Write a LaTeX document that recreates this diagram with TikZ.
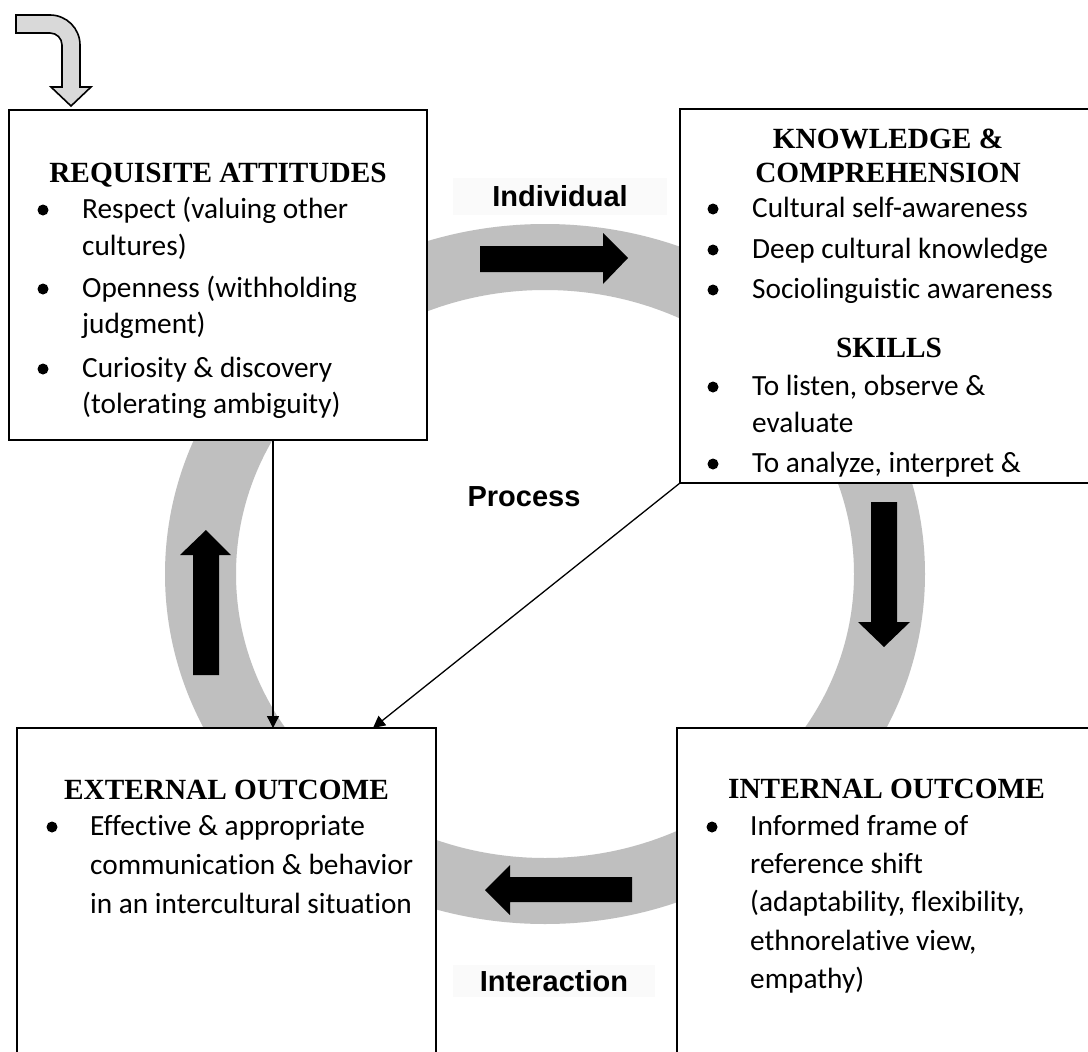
\documentclass[tikz,border=0pt]{standalone}
\usepackage{fontspec}
\setmainfont{Carlito}[Ligatures=NoCommon]
\newfontfamily\titlefont{Liberation Serif}
\newfontfamily\labelfont{Liberation Sans}
\usetikzlibrary{arrows.meta}
\definecolor{ringgray}{HTML}{BFBFBF}
\definecolor{arrowgray}{HTML}{D9D9D9}
\definecolor{labbg}{HTML}{FAFAFA}
\begin{document}
\begin{tikzpicture}[x=1pt,y=-1pt,
  box/.style={draw=black, line width=1.4pt, fill=white, inner sep=0pt, outer sep=0pt},
  body/.style={font=\fontsize{29.3}{35}\selectfont, inner sep=0pt, anchor=base west},
  bul/.style={circle, fill=black, inner sep=0pt, minimum size=11pt},
  ttl/.style={font=\titlefont\bfseries\fontsize{29.3}{35}\selectfont, inner sep=0pt, anchor=base},
  lab/.style={font=\labelfont\bfseries\fontsize{29}{35}\selectfont, inner sep=0pt},
  conn/.style={line width=1.3pt, -{Triangle[width=12pt,length=12pt]}},
  blk/.style={fill=black}
]
\useasboundingbox (0,0) rectangle (1088,1052);
\clip (0,0) rectangle (1088,1052);
\fill[white] (0,0) rectangle (1088,1052);

% gray ring
\fill[ringgray, even odd rule] (545,574) ellipse [x radius=380, y radius=350]
                               (545,574) ellipse [x radius=309, y radius=284];

% black block arrows on the ring
\fill[blk] (480,246) -- (603,246) -- (603,233) -- (628,258) -- (603,284) -- (603,272) -- (480,272) -- cycle;
\fill[blk] (871,502) -- (897,502) -- (897,622) -- (910,622) -- (884,647) -- (858,622) -- (871,622) -- cycle;
\fill[blk] (632,877) -- (632,902) -- (510,902) -- (510,915) -- (485,890) -- (510,865) -- (510,877) -- cycle;
\fill[blk] (193,675) -- (219,675) -- (219,555) -- (231,555) -- (206,530) -- (180,555) -- (193,555) -- cycle;

% labels
\node[lab, fill=labbg, minimum width=214pt, minimum height=37pt] (ind) at (560,196.5) {Individual};
\node[lab] (proc) at (524,496.5) {Process};
\node[lab, fill=labbg, minimum width=202pt, minimum height=32pt] (inter) at (554,981) {Interaction};

% ---- Requisite attitudes
\node[box, minimum width=418pt, minimum height=330pt] (tl) at (218,275) {};
\node[ttl] (tlt) at (218,182) {REQUISITE ATTITUDES};
\node[bul] (tlb1) at (43,210) {};
\node[bul] (tlb2) at (43,289) {};
\node[bul] (tlb3) at (43,369) {};
\node[body] (tl1) at (82,218) {Respect (valuing other};
\node[body] (tl2) at (82,255) {cultures)};
\node[body] (tl3) at (82,297) {Openness (withholding};
\node[body] (tl4) at (82,333) {judgment)};
\node[body] (tl5) at (82,377) {Curiosity \& discovery};
\node[body] (tl6) at (82,413) {(tolerating ambiguity)};

% ---- Knowledge & comprehension
\node[box, minimum width=416pt, minimum height=374pt] (kc) at (888,296) {};
\begin{scope}
\clip (680,109) rectangle (1096,476);
\node[ttl] (kct1) at (888,148) {KNOWLEDGE \&};
\node[ttl] (kct2) at (888,182) {COMPREHENSION};
\node[ttl] (kct3) at (889,357) {SKILLS};
\node[bul] (kcb1) at (713,209) {};
\node[bul] (kcb2) at (713,250) {};
\node[bul] (kcb3) at (713,290) {};
\node[bul] (kcb4) at (713,387) {};
\node[bul] (kcb5) at (713,464) {};
\node[body] (kc1) at (752,217) {Cultural self-awareness};
\node[body] (kc2) at (752,258) {Deep cultural knowledge};
\node[body] (kc3) at (752,298) {Sociolinguistic awareness};
\node[body] (kc4) at (752,395) {To listen, observe \&};
\node[body] (kc5) at (752,432) {evaluate};
\node[body] (kc6) at (752,472) {To analyze, interpret \&};
\end{scope}

% ---- External outcome
\node[box, minimum width=419pt, minimum height=334pt] (ext) at (226.5,895) {};
\node[ttl] (extt) at (226.5,799) {EXTERNAL OUTCOME};
\node[bul] (extb1) at (52,827) {};
\node[body] (ext1) at (90,835) {Effective \& appropriate};
\node[body] (ext2) at (90,874) {communication \& behavior};
\node[body] (ext3) at (90,913) {in an intercultural situation};

% ---- Internal outcome
\node[box, minimum width=419pt, minimum height=334pt] (int) at (886.5,895) {};
\node[ttl] (intt) at (886.5,798) {INTERNAL OUTCOME};
\node[bul] (intb1) at (712,827) {};
\node[body] (int1) at (750,835) {Informed frame of};
\node[body] (int2) at (750,873) {reference shift};
\node[body] (int3) at (750,911) {(adaptability, flexibility,};
\node[body] (int4) at (750,950) {ethnorelative view,};
\node[body] (int5) at (750,988) {empathy)};

% connectors
\coordinate (c1) at (273,0);
\coordinate (c2) at (373,0);
\draw[conn] (tl.south -| c1) -- (ext.north -| c1);
\draw[conn] (kc.south west) -- (ext.north -| c2);

% curved entry arrow
\draw[fill=arrowgray, line width=1.6pt, line join=miter]
  (16,15) -- (50,15) arc[start angle=-90, end angle=0, radius=30]
  -- (80,87) -- (91,87) -- (71,106) -- (51,87) -- (62,87) -- (62,45)
  arc[start angle=0, end angle=-90, radius=12] -- (16,33) -- cycle;
\end{tikzpicture}
\end{document}
